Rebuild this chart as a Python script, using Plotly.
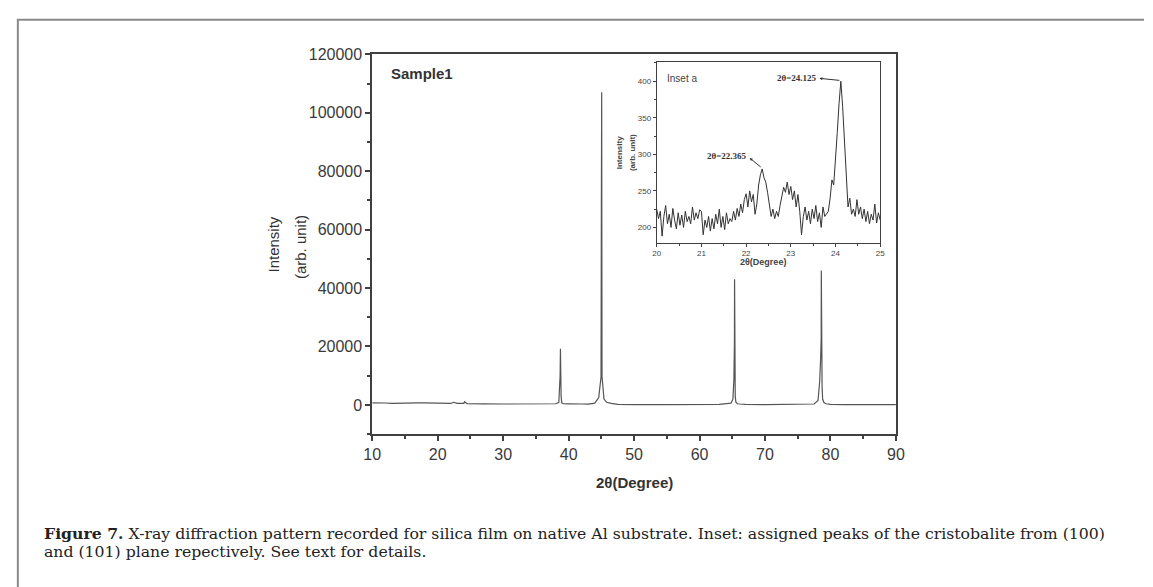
import plotly.graph_objects as go

W, H = 1153, 587

# ---------------- data ----------------
two_theta = [10, 11, 12, 13, 14, 15, 16, 17, 18, 19, 20, 21, 22, 22.4, 23, 24, 24.1, 24.5, 25, 27, 30, 33, 36,
             38, 38.5, 38.62, 38.7, 38.75, 38.77, 38.8, 38.85, 38.95, 39.2, 40, 41, 42, 43, 44, 44.6, 44.85,
             44.95, 45.0, 45.02, 45.05, 45.08, 45.1, 45.15, 45.25, 45.4, 45.8, 46.5, 47.5, 50, 55, 60, 63, 64.8,
             65.1, 65.25, 65.33, 65.35, 65.37, 65.4, 65.45, 65.55, 65.8, 66.2, 67, 70, 75, 77.5, 78.1, 78.35,
             78.5, 78.58, 78.6, 78.62, 78.65, 78.68, 78.72, 78.8, 79.0, 79.3, 80, 82, 85, 90]
intensity = [700, 750, 650, 500, 600, 700, 650, 700, 720, 680, 700, 650, 500, 900, 500, 550, 1100, 400, 350, 320, 300, 320, 350,
             400, 800, 4800, 10000, 19200, 9800, 10000, 3000, 700, 400, 350, 200, 300, 250, 600, 2500, 9000,
             9600, 66000, 30000, 107000, 66000, 9500, 8500, 5500, 2000, 900, 500, 200, 80, 100, 120, 150, 600,
             2000, 9000, 21000, 43000, 9500, 21000, 3000, 900, 400, 300, 150, 100, 120, 300, 1500, 8000,
             16000, 23000, 46000, 12000, 22000, 16000, 6000, 2000, 800, 400, 150, 100, 80, 80]

inset_x0, inset_dx = 20.0, 0.04
inset_y = [225, 212, 222, 188, 215, 230, 205, 218, 200, 226, 210, 198, 220, 203, 217, 200, 222, 208, 215, 205, 228, 210, 220, 212, 224,
           222, 190, 210, 200, 215, 195, 212, 198, 218, 205, 225, 200, 215, 197, 220, 205, 212, 208, 222, 210, 226, 215, 232, 220, 238,
           246, 228, 250, 235, 245, 218, 232, 258, 272, 280, 268, 262, 248, 228, 215, 225, 212, 222, 215, 230, 242, 255, 248, 262, 245,
           256, 238, 250, 228, 245, 222, 190, 215, 228, 210, 222, 205, 225, 212, 230, 208, 220, 200, 228, 215, 218, 222, 240, 265, 258,
           290, 330, 370, 400, 365, 320, 270, 228, 240, 218, 225, 215, 238, 218, 228, 212, 225, 208, 222, 205, 218, 210, 232, 206, 220, 210]
inset_x = [round(inset_x0 + inset_dx * i, 2) for i in range(len(inset_y))]

main_x_ticks = [10, 20, 30, 40, 50, 60, 70, 80, 90]
main_y_ticks = [0, 20000, 40000, 60000, 80000, 100000, 120000]
inset_x_ticks = [20, 21, 22, 23, 24, 25]
inset_y_ticks = [200, 250, 300, 350, 400]

# ---------------- figure ----------------
def px(x):
    return x / W

def py(y):
    return 1 - y / H

fig = go.Figure()
fig.add_trace(go.Scatter(x=two_theta, y=intensity, mode="lines",
                         line=dict(color="#555555", width=1.2), xaxis="x", yaxis="y", showlegend=False))
fig.add_trace(go.Scatter(x=inset_x, y=inset_y, mode="lines",
                         line=dict(color="#333333", width=1), xaxis="x2", yaxis="y2", showlegend=False))

axis_col = "#404040"
tick_font = dict(family="Liberation Sans, Arial", size=16, color="#3a3a3a")
small_font = dict(family="Liberation Sans, Arial", size=8, color="#444444")

fig.update_layout(
    width=W, height=H, margin=dict(l=0, r=0, t=0, b=0),
    paper_bgcolor="white", plot_bgcolor="white",
    xaxis=dict(domain=[px(369), px(901)], range=[10, 90], tickvals=main_x_ticks,
               ticktext=[str(v) for v in main_x_ticks],
               ticks="outside", ticklen=5, tickwidth=1.5, tickcolor=axis_col,
               minor=dict(dtick=5, tick0=0, ticks="outside", ticklen=3, tickcolor=axis_col),
               showline=True, linecolor=axis_col, linewidth=1.8, mirror=True,
               showgrid=False, zeroline=False, tickfont=tick_font, anchor="y"),
    yaxis=dict(domain=[py(432), py(47)], range=[-10000, 120000], tickvals=main_y_ticks,
               ticktext=[str(v) for v in main_y_ticks],
               ticks="outside", ticklen=5, tickwidth=1.5, tickcolor=axis_col,
               minor=dict(dtick=10000, tick0=0, ticks="outside", ticklen=3, tickcolor=axis_col),
               showline=True, linecolor=axis_col, linewidth=1.8, mirror=True,
               showgrid=False, zeroline=False, tickfont=tick_font, anchor="x"),
    xaxis2=dict(domain=[px(658), px(885)], range=[20, 25], tickvals=inset_x_ticks,
                ticktext=[str(v) for v in inset_x_ticks],
                ticks="outside", ticklen=3, tickcolor=axis_col,
                minor=dict(dtick=0.5, tick0=20, ticks="outside", ticklen=2, tickcolor=axis_col),
                showline=True, linecolor=axis_col, linewidth=1, mirror=True,
                showgrid=False, zeroline=False, tickfont=small_font, anchor="y2"),
    yaxis2=dict(domain=[py(238), py(55)], range=[179, 426], tickvals=inset_y_ticks,
                ticktext=[str(v) for v in inset_y_ticks],
                ticks="outside", ticklen=3, tickcolor=axis_col,
                minor=dict(dtick=25, tick0=200, ticks="outside", ticklen=2, tickcolor=axis_col),
                showline=True, linecolor=axis_col, linewidth=1, mirror=True,
                showgrid=False, zeroline=False, tickfont=small_font, anchor="x2"),
)

# inset white background
fig.add_shape(type="rect", xref="x2 domain", yref="y2 domain", x0=0, x1=1, y0=0, y1=1,
              fillcolor="white", line=dict(width=0), layer="below")

# page frame (top & left lines)
fig.add_shape(type="line", xref="paper", yref="paper", x0=px(8), x1=1, y0=py(12), y1=py(12),
              line=dict(color="#8a8a8a", width=2))
fig.add_shape(type="line", xref="paper", yref="paper", x0=px(9), x1=px(9), y0=py(12), y1=0,
              line=dict(color="#8a8a8a", width=2))

ann = []
title_font = dict(family="Liberation Sans, Arial", size=15, color="#333333")
ann.append(dict(text="<b>2θ(Degree)</b>", x=px(635), y=py(481), xref="paper", yref="paper",
                showarrow=False, font=title_font, xanchor="center", yanchor="middle"))
ann.append(dict(text="Intensity", x=px(269), y=py(240), xref="paper", yref="paper", textangle=-90,
                showarrow=False, font=title_font, xanchor="center", yanchor="middle"))
ann.append(dict(text="(arb. unit)", x=px(296), y=py(242), xref="paper", yref="paper", textangle=-90,
                showarrow=False, font=title_font, xanchor="center", yanchor="middle"))
ann.append(dict(text="<b>Sample1</b>", x=px(386), y=py(66), xref="paper", yref="paper",
                showarrow=False, font=dict(family="Liberation Sans, Arial", size=15, color="#333333"),
                xanchor="left", yanchor="middle"))
# inset texts
ann.append(dict(text="Inset a", x=px(666), y=py(71), xref="paper", yref="paper",
                showarrow=False, font=dict(family="Liberation Sans, Arial", size=10, color="#444444"),
                xanchor="left", yanchor="middle"))
ann.append(dict(text="<b>2θ(Degree)</b>", x=px(766), y=py(258), xref="paper", yref="paper",
                showarrow=False, font=dict(family="Liberation Sans, Arial", size=9, color="#444444"),
                xanchor="center", yanchor="middle"))
ann.append(dict(text="<b>Intensity</b>", x=px(621), y=py(147), xref="paper", yref="paper", textangle=-90,
                showarrow=False, font=dict(family="Liberation Sans, Arial", size=8, color="#444444"),
                xanchor="center", yanchor="middle"))
ann.append(dict(text="<b>(arb. unit)</b>", x=px(634), y=py(147), xref="paper", yref="paper", textangle=-90,
                showarrow=False, font=dict(family="Liberation Sans, Arial", size=8, color="#444444"),
                xanchor="center", yanchor="middle"))
serif_small = dict(family="Liberation Serif, Times New Roman", size=9, color="#333333")
ann.append(dict(text="<b>2θ=24.125</b>", x=23.62, y=404, xref="x2", yref="y2",
                showarrow=False, font=serif_small, xanchor="right", yanchor="middle"))
ann.append(dict(text="", x=23.64, y=404, xref="x2", yref="y2", ax=24.12, ay=401, axref="x2", ayref="y2",
                showarrow=True, arrowhead=2, arrowsize=0.6, arrowwidth=1, arrowcolor="#333333"))
ann.append(dict(text="<b>2θ=22.365</b>", x=22.06, y=298, xref="x2", yref="y2",
                showarrow=False, font=serif_small, xanchor="right", yanchor="middle"))
ann.append(dict(text="", x=22.08, y=295, xref="x2", yref="y2", ax=22.36, ay=281, axref="x2", ayref="y2",
                showarrow=True, arrowhead=2, arrowsize=0.6, arrowwidth=1, arrowcolor="#333333"))
# caption
cap_font = dict(family="DejaVu Serif, Liberation Serif", size=15.7, color="#222222")
ann.append(dict(text="<b>Figure 7.</b> X-ray diffraction pattern recorded for silica film on native Al substrate. "
                     "Inset: assigned peaks of the cristobalite from (100)",
                x=px(34), y=py(533), xref="paper", yref="paper", showarrow=False, font=cap_font,
                xanchor="left", yanchor="middle"))
ann.append(dict(text="and (101) plane repectively. See text for details.",
                x=px(34), y=py(551), xref="paper", yref="paper", showarrow=False, font=cap_font,
                xanchor="left", yanchor="middle"))
fig.update_layout(annotations=ann)

fig.write_html("out.html")
